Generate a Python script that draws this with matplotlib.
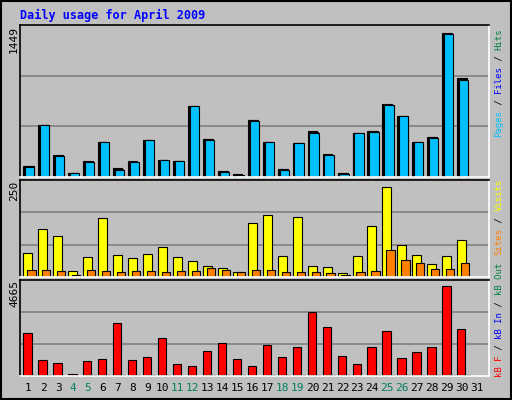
import numpy as np
import matplotlib
matplotlib.use("Agg")
import matplotlib.pyplot as plt

days = list(range(1, 32))
hits = [112, 511, 214, 42, 157, 339, 90, 157, 367, 166, 157, 693, 377, 61, 26, 561,
        348, 80, 329, 454, 224, 42, 434, 454, 712, 597, 348, 396, 1410, 970, 0]
files = [107, 508, 210, 42, 152, 339, 80, 152, 367, 166, 157, 693, 372, 56, 24, 555,
         343, 75, 329, 444, 219, 37, 434, 449, 708, 597, 343, 391, 1405, 960, 0]
pages = [102, 511, 205, 42, 147, 339, 71, 147, 367, 166, 157, 693, 367, 52, 22, 549,
         339, 71, 329, 434, 214, 32, 434, 444, 703, 597, 339, 387, 1401, 951, 0]
visits = [63, 128, 110, 16, 53, 156, 58, 50, 60, 79, 53, 42, 29, 24, 14, 143,
          164, 55, 159, 29, 27, 11, 55, 136, 239, 84, 58, 35, 55, 99, 0]
sites = [19, 19, 16, 6, 19, 16, 14, 16, 16, 14, 16, 16, 24, 19, 14, 19,
         19, 14, 14, 14, 11, 6, 14, 16, 71, 45, 37, 22, 22, 37, 0]
kbytes = [2177, 802, 655, 115, 753, 851, 2668, 802, 949, 1883, 606, 507, 1244, 1637, 851, 507,
          1539, 949, 1441, 3209, 2472, 999, 606, 1441, 2275, 900, 1195, 1441, 4485, 2374, 0]
kb_in = [65 if k > 700 else 0 for k in kbytes]
weekend = [4, 5, 11, 12, 18, 19, 25, 26]

bg = "#C0C0C0"
fig = plt.figure(figsize=(5.12, 4.0), dpi=100, facecolor=bg)
x = np.array(days)
mono = "DejaVu Sans Mono"

def panel(rect, ymax):
    ax = fig.add_axes(rect, facecolor=bg)
    ax.set_xlim(0.45, 31.8)
    ax.set_ylim(0, ymax * 1.03)
    for t in (1 / 3, 2 / 3):
        ax.axhline(ymax * 1.03 * t, color="#808080", lw=1.2, zorder=0)
    ax.set_xticks([])
    ax.set_yticks([])
    for s in ax.spines.values():
        s.set_linewidth(1.2)
    ax.spines["bottom"].set_color("white")
    ax.spines["right"].set_color("white")
    return ax

# bars placed by left edge, day centre at x
ax1 = panel([0.039, 0.5575, 0.916, 0.38], 1449)
ax1.bar(x - 0.32, hits, 0.62, color="#008040", edgecolor="black", lw=0.8, align="edge")
ax1.bar(x - 0.26, files, 0.62, color="#0000FF", edgecolor="black", lw=0.8, align="edge")
ax1.bar(x - 0.2, pages, 0.62, color="#00C0FF", edgecolor="black", lw=0.8, align="edge")

ax2 = panel([0.039, 0.3075, 0.916, 0.2425], 250)
ax2.bar(x - 0.32, visits, 0.6, color="#FFFF00", edgecolor="black", lw=0.8, align="edge")
ax2.bar(x - 0.06, sites, 0.55, color="#FF8000", edgecolor="black", lw=0.8, align="edge")

ax3 = panel([0.039, 0.06, 0.916, 0.24], 4665)
ax3.bar(x - 0.32, kbytes, 0.55, color="#FF0000", edgecolor="black", lw=0.8, align="edge")
ax3.bar(x - 0.12, kb_in, 0.62, color="black", edgecolor="black", lw=0.8, align="edge")

for d in days:
    c = "#008060" if d in weekend else "black"
    fig.text((20 + (d - 0.45) / 31.35 * 469) / 512, 1 - 388 / 400, str(d),
             ha="center", va="center", fontsize=8, family=mono, color=c)

fig.text(20 / 512, 1 - 15 / 400, "Daily usage for April 2009", fontsize=8.5,
         family=mono, weight="bold", color="#0000FF", va="center")

for lab, ytop in (("1449", 26), ("250", 181), ("4665", 280)):
    fig.text(14 / 512, 1 - ytop / 400, lab, rotation=90, ha="center", va="top",
             fontsize=8, family=mono)

def side_label(parts, ybottom, cw=5.45):
    y = ybottom
    for txt, col in parts:
        fig.text(499 / 512, 1 - y / 400, txt, rotation=90, ha="center", va="bottom",
                 fontsize=6.5, family=mono, color=col)
        y -= len(txt) * cw

side_label([("Pages", "#00C0FF"), (" / ", "black"), ("Files", "#0000FF"),
            (" / ", "black"), ("Hits", "#008040")], 137)
side_label([("Sites", "#FF8000"), (" / ", "black"), ("Visits", "#FFFF00")], 255)
side_label([("kB F", "#FF0000"), (" / ", "black"), ("kB In", "#0000FF"),
            (" / ", "black"), ("kB Out", "#008040")], 377)

fig.add_artist(plt.Rectangle((0.002, 0.003), 0.996, 0.994, transform=fig.transFigure,
                             fill=False, edgecolor="black", lw=1.5))
fig.savefig("out.png", dpi=100, facecolor=bg)
